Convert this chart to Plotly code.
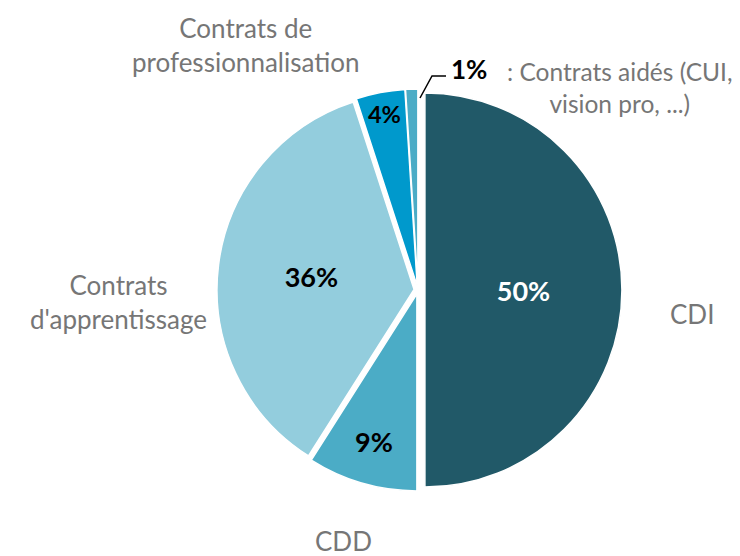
import plotly.graph_objects as go

# contract types, clockwise from 12 o'clock
categories = ["CDI", "CDD", "Contrats d'apprentissage",
              "Contrats de professionnalisation", "Contrats aidés (CUI, vision pro, ...)"]
values = [50, 9, 36, 4, 1]
colors = ["#215968", "#4BACC6", "#93CDDD", "#0099CC", "#4BACC6"]
text_colors = ["white", "black", "black", "black", "black"]
pulls = [0.035, 0.02, 0.02, 0.02, 0.02]

# percent shown inside the slice (the 1% one is written outside)
inside_text = ["<b>%d%%</b>" % v if v > 1 else "" for v in values]

GREY = "#767676"
FONT = "Lato"

fig = go.Figure()
fig.add_trace(go.Pie(
    labels=categories,
    values=values,
    sort=False,
    direction="clockwise",
    rotation=0,
    pull=pulls,
    marker=dict(colors=colors, line=dict(color="white", width=1.5)),
    text=inside_text,
    textinfo="text",
    textposition="inside",
    insidetextorientation="horizontal",
    insidetextfont=dict(family=FONT, size=27, color=text_colors),
    hoverinfo="label+percent",
    showlegend=False,
    domain=dict(x=[206 / 740, 614 / 740], y=[70 / 556, 478 / 556]),
))

def px_x(x):
    return x / 740

def px_y(y):
    return 1 - y / 556

notes = [
    ("Contrats de<br>professionnalisation", 237, 37, GREY, 26),
    (": Contrats aidés (CUI,<br>vision pro, ...)", 612, 79, GREY, 24.5),
    ("<b>1%</b>", 461, 61, "black", 26),
    ("Contrats<br>d'apprentissage", 110, 294, GREY, 26),
    ("CDI", 684, 306, GREY, 26),
    ("CDD", 335, 533, GREY, 26),
]
for txt, x, y, col, size in notes:
    fig.add_annotation(x=px_x(x), y=px_y(y), xref="paper", yref="paper",
                       xanchor="center", yanchor="middle",
                       text=txt, showarrow=False, align="center",
                       font=dict(family=FONT, size=size, color=col))

# leader line for the 1% slice
fig.add_shape(type="path", xref="paper", yref="paper",
              path="M %f %f L %f %f L %f %f" % (px_x(412), px_y(90), px_x(424), px_y(68),
                                                px_x(438), px_y(68)),
              line=dict(color="black", width=1.5))

fig.update_layout(
    width=740, height=556,
    margin=dict(l=0, r=0, t=0, b=0),
    paper_bgcolor="white",
    plot_bgcolor="white",
)

fig.write_html("out.html")
